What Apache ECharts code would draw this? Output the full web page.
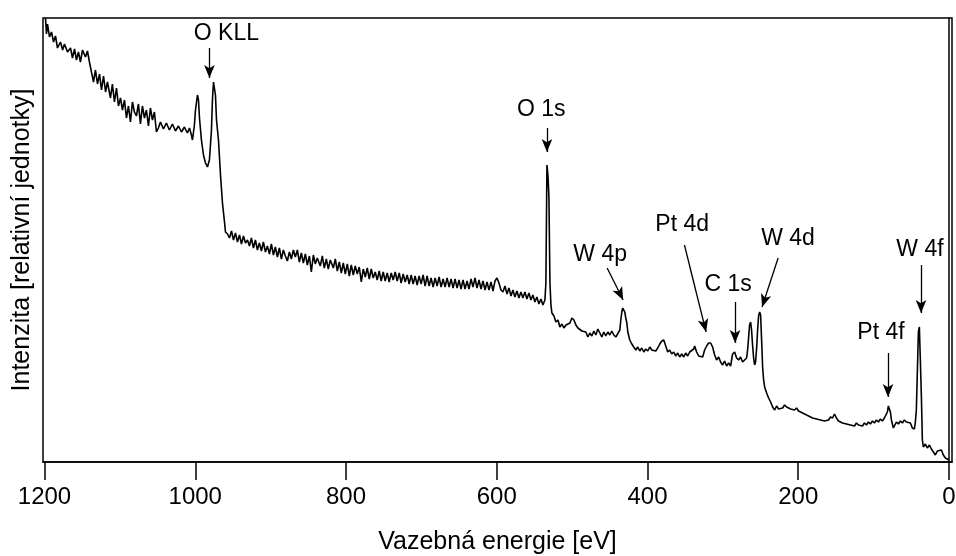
<!DOCTYPE html>
<html>
<head>
<meta charset="utf-8">
<script src="https://cdn.jsdelivr.net/npm/echarts@6/dist/echarts.min.js"></script>
<style>
html,body{margin:0;padding:0;background:#fff;}
#chart{width:956px;height:556px;}
</style>
</head>
<body>
<div id="chart"></div>
<script>
// Binding energy [eV]
const bindingEnergy = [
1198.7,1197.4,1196,1193.4,1190.7,1188,1185.4,1182.8,1178.8,1176,1173.5,1169.5,1165.5,1162.9,1160.2,1157.6,1155,1152.3,1149.6,1145.7,
1143,1140.4,1137.7,1135,1132.4,1129.7,1127,1124.4,1121.7,1119,1116.5,1112.5,1109.9,1107.2,1104.5,1101.9,1099.2,1096.6,1093.9,1091.3,
1088.6,1086,1083.3,1080.7,1078,1075.4,1072.7,1070.1,1067.4,1064.8,1062.1,1059.5,1056.8,1054.2,1051.5,1048.9,1046.2,1042.2,1038.3,1034.3,
1030.3,1026.3,1022.3,1018.3,1014.4,1010.4,1007.7,1005.1,1003.7,1001.1,999.7,997.1,995.7,994.4,991.8,989.1,986.4,983.8,981.2,978.5,
977.2,975.8,974.5,973.2,971.8,969.2,966.5,963.9,961.2,959.9,957.2,954.6,951.9,949.3,946.6,944,941.3,938.7,936,933.4,
930.7,928.1,925.5,922.8,920.2,917.5,914.9,912.2,909.6,906.9,904.3,901.6,899,896.3,893.7,891,888.4,885.7,883.1,880.4,
877.8,875.1,872.5,869.8,867.2,864.5,861.9,859.2,856.6,853.9,851.3,848.6,846,843.3,840.7,838.1,834.1,831.4,828.8,826.1,
823.5,820.8,816.8,814.2,811.5,808.9,806.2,803.6,800.9,798.3,795.6,793,790.3,787.7,785,782.4,779.7,777.1,774.4,771.8,
769.1,766.5,763.9,761.2,758.6,755.9,753.3,750.6,748,745.3,742.7,740,737.4,734.7,732.1,729.4,726.8,724.1,721.5,718.8,
716.2,713.5,710.9,708.3,705.6,703,700.3,697.7,695,692.4,689.7,687.1,684.4,681.8,679.1,676.5,673.8,671.2,668.5,665.9,
663.2,660.6,657.9,655.3,652.6,650,647.4,644.7,642.1,639.4,636.8,634.1,631.5,628.8,626.2,623.5,620.9,618.2,615.6,612.9,
610.3,607.6,605,602.3,599.7,597,594.4,591.7,589.1,586.4,583.8,581.1,578.5,575.9,573.2,570.6,567.9,565.3,562.6,560,
557.3,554.7,552,549.4,546.7,544.1,541.4,538.8,537.4,536.1,534.8,533.4,532.1,530.8,529.4,528.1,526.8,524.1,521.5,518.8,
516.2,513.5,510.9,508.2,505.6,502.9,500.3,497.6,495,492.3,489.7,487,484.4,481.8,479.1,476.5,473.8,471.2,468.5,465.9,
463.2,460.6,457.9,455.3,452.6,450,447.3,444.7,442,439.4,436.7,435.4,434.1,432.8,431.4,430.1,428.8,427.4,426.1,423.5,
420.8,418.2,415.5,412.9,410.2,407.6,404.9,402.3,399.6,397,394.3,391.7,389,386.4,383.7,381.1,378.4,375.8,373.2,370.5,
367.9,365.2,362.6,359.9,357.3,354.6,352,349.3,346.7,344,341.4,338.7,337.4,334.8,332.1,329.5,326.8,324.2,321.5,318.9,
316.2,313.6,310.9,308.3,305.6,303,300.3,297.7,295,292.4,289.7,287.1,284.4,281.8,279.1,276.5,273.8,271.2,268.5,267.2,
265.9,264.6,263.2,261.9,260.6,259.2,257.9,256.6,255.2,253.9,252.6,251.2,249.9,248.6,247.2,245.9,244.6,241.9,239.3,236.6,
234,231.3,228.7,226,223.4,220.7,218.1,215.4,212.8,210.1,207.5,204.9,202.2,199.6,196.9,194.3,191.6,189,186.3,183.7,
181,178.4,175.7,173.1,170.4,167.8,165.1,162.5,159.8,157.2,154.5,151.9,149.3,146.6,144,141.3,138.7,136,133.4,130.7,
128.1,125.4,122.8,120.1,117.5,114.8,112.2,109.5,106.9,104.2,101.6,98.9,96.3,93.6,91,88.3,85.7,83.1,81.7,80.4,
79.1,77.7,76.4,73.8,72.4,69.8,67.1,64.5,61.8,59.2,56.5,53.9,51.2,48.6,45.9,44.6,43.3,41.9,40.6,39.3,
38,36.6,35.3,34,31.3,28.7,26,23.4,20.7,18.1,15.4,12.8,10.1,7.5,4.8,2.2,0
];
// Intensity [relative units]
const intensity = [
444,428,438,425,430,420,426,414,420,412,418,410,414,404,413,402,410,400,412,405,
411,400,390,380,392,378,388,372,386,370,380,364,378,360,374,356,364,352,362,344,
356,340,360,350,346,358,338,356,344,352,336,354,342,350,330,334,340,333,339,332,
338,331,336,330,335,329,334,327,322,337,352,367,362,344,322,307,299,295,302,332,
362,380,382,367,342,322,287,259,240,230,228,224,231,222,229,220,227,218,226,219,
222,216,224,214,222,212,219,211,220,210,216,208,218,207,215,205,214,203,212,206,
201,210,203,212,205,212,200,209,199,208,197,206,190,207,198,204,196,206,194,203,
193,202,194,203,191,200,189,199,188,198,186,197,187,196,188,195,180,193,185,194,
183,193,184,190,182,191,181,190,181,189,180,189,182,190,181,189,179,188,180,187,
178,187,178,186,177,186,178,187,176,186,176,184,175,184,176,185,175,183,175,184,
175,183,174,183,174,182,173,182,173,181,173,183,175,184,174,182,173,181,172,180,
172,180,171,181,184,179,172,170,176,168,174,166,172,165,171,164,170,164,170,163,
169,162,167,160,165,158,163,157,155,162,179,297,287,266,179,157,149,146,140,142,
135,138,134,137,136,139,144,142,137,134,135,131,129,130,125,129,126,131,127,133,
129,125,130,126,130,127,131,127,125,124,132,142,150,154,155,150,144,139,130,122,
118,115,112,115,111,114,110,113,111,115,112,114,111,114,118,121,122,116,110,112,
108,110,106,109,105,108,105,109,106,110,108,113,116,110,106,108,105,112,116,119,
119,115,107,102,105,100,97,101,96,99,96,108,110,104,102,105,100,101,104,112,
124,137,140,132,117,104,97,100,114,132,146,150,147,122,94,82,75,69,64,60,
55,52,56,53,55,54,57,55,56,53,55,52,54,51,50,51,48,49,46,47,
44,46,43,45,42,44,41,43,42,45,44,48,44,41,42,39,41,38,40,37,
39,36,39,37,39,36,39,37,40,38,41,39,42,40,43,41,44,44,50,56,
57,50,42,34,32,40,38,41,39,42,40,41,39,34,33,40,52,92,130,135,
102,65,22,15,18,14,17,13,10,7,11,9,12,7,4,3,2
];
const xTickValues = [0, 200, 400, 600, 800, 1000, 1200];

// Peak annotations (label centre and arrow in data units)
const peakNames = ["O KLL", "O 1s", "W 4p", "Pt 4d", "C 1s", "W 4d", "W 4f", "Pt 4f"];
const labelEnergy = [958.7, 541, 462.8, 354, 293, 213.5, 38.5, 90.2];
const labelIntensity = [428, 352, 207, 237, 177, 223, 212, 129];
const arrowFromEnergy = [981.2, 533.4, 453.5, 351, 283.8, 226.7, 37.1, 80.9];
const arrowFromIntensity = [414, 334, 194, 217, 160, 204, 197, 109];
const arrowToEnergy = [981.2, 533.4, 432.3, 322.2, 283.8, 248, 37.1, 80.9];
const arrowToIntensity = [384, 310, 162, 130, 119, 155, 149, 65];

const spectrum = bindingEnergy.map((e, i) => [e, intensity[i]]);
const arrowData = peakNames.map((n, i) => [
  {coord: [arrowFromEnergy[i], arrowFromIntensity[i]]},
  {coord: [arrowToEnergy[i], arrowToIntensity[i]]}
]);

const FONT = "'Liberation Sans', Arial, sans-serif";
const chart = echarts.init(document.getElementById('chart'), null, {renderer: 'canvas'});
chart.setOption({
  animation: false,
  backgroundColor: '#fff',
  grid: {left: 43, right: 4, top: 18, bottom: 94, containLabel: false, outerBoundsMode: 'none',
         show: true, borderColor: '#000', borderWidth: 1.5, backgroundColor: 'transparent'},
  xAxis: {
    type: 'value', inverse: true, min: -4, max: 1202,
    name: 'Vazebná energie [eV]', nameLocation: 'middle', nameGap: 68,
    nameTextStyle: {fontFamily: FONT, fontSize: 25, color: '#000'},
    axisLine: {show: true, lineStyle: {color: '#000', width: 1.5}},
    axisTick: {show: true, inside: false, length: 18, customValues: xTickValues, lineStyle: {color: '#000', width: 1.5}},
    axisLabel: {show: true, margin: 23, customValues: xTickValues, formatter: v => String(v),
                fontFamily: FONT, fontSize: 24, color: '#000'},
    splitLine: {show: false}
  },
  yAxis: {
    type: 'value', min: 0, max: 444,
    name: 'Intenzita [relativní jednotky]', nameLocation: 'middle', nameGap: 8, nameRotate: 90,
    nameTextStyle: {fontFamily: FONT, fontSize: 25, color: '#000'},
    axisLine: {show: true, lineStyle: {color: '#000', width: 1.5}},
    axisTick: {show: false}, axisLabel: {show: false}, splitLine: {show: false}
  },
  series: [
    {
      type: 'line', data: spectrum, showSymbol: false, symbol: 'none',
      lineStyle: {color: '#000', width: 1.6}, silent: true,
      markLine: {
        silent: true, symbol: ['none', 'arrow'], symbolSize: [8, 13],
        lineStyle: {color: '#000', width: 1.3, type: 'solid'},
        label: {show: false},
        data: arrowData
      }
    }
  ]
});

// Peak labels placed through the chart's own coordinate conversion
const labelGraphics = peakNames.map((n, i) => {
  const p = chart.convertToPixel({gridIndex: 0}, [labelEnergy[i], labelIntensity[i]]);
  return {
    type: 'text', x: p[0], y: p[1], silent: true, z: 10,
    style: {text: n, fill: '#000', font: "23px 'Liberation Sans', Arial, sans-serif",
            align: 'center', verticalAlign: 'middle'}
  };
});
chart.setOption({graphic: labelGraphics});
</script>
</body>
</html>
